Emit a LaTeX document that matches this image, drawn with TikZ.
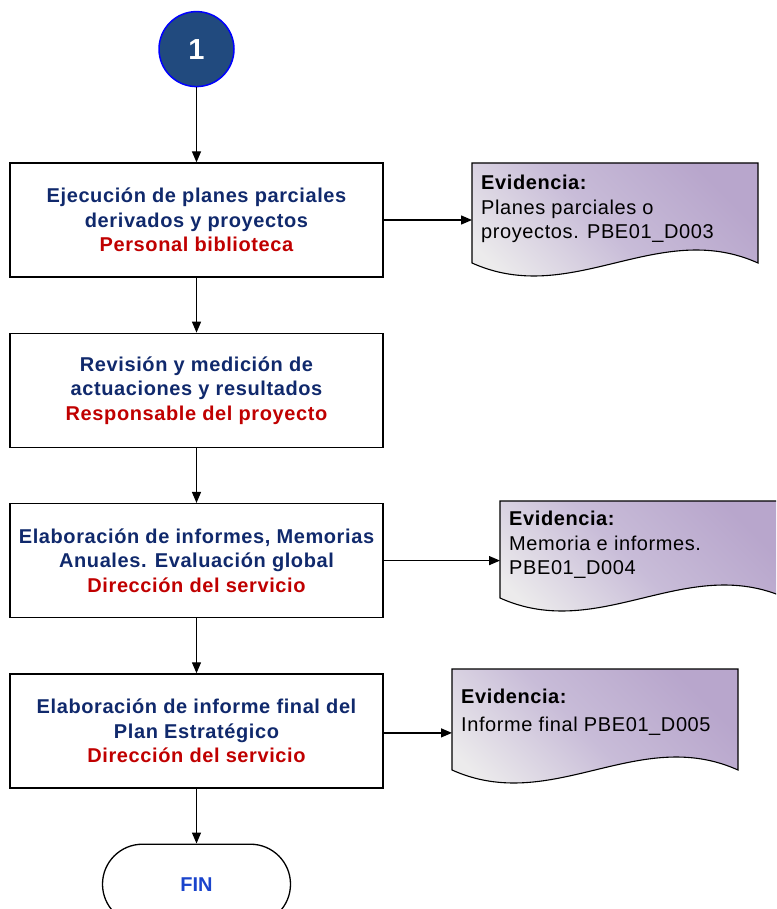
\documentclass[tikz,border=0pt]{standalone}
\usepackage{fontspec}
\setmainfont{Liberation Sans}
\newfontfamily\spacedfont[LetterSpace=3]{Liberation Sans}
\usetikzlibrary{positioning}
\usetikzlibrary{arrows.meta}

\definecolor{navy}{HTML}{10296C}
\definecolor{resp}{HTML}{C00000}
\definecolor{startfill}{HTML}{214A7E}
\definecolor{finblue}{HTML}{1A44CC}
\definecolor{evlight}{HTML}{ECEBEC}
\definecolor{evmid}{HTML}{C8BCD8}
\definecolor{evpurple}{HTML}{B8A6CC}

\begin{document}
\begin{tikzpicture}
		[x=1pt, y=-1pt,
		proc/.style={draw, line width=1.3pt, minimum width=373pt, minimum height=114pt, align=center, node distance=55pt, text=navy, font=\spacedfont\bfseries\fontsize{20}{24.5}\selectfont},
		evid/.style={draw, line width=1.1pt, top color=evlight, bottom color=evpurple, middle color=evmid, shading angle=135},
		evtext/.style={anchor=north west, align=left, inner xsep=9pt, inner ysep=0pt, font=\spacedfont\fontsize{20}{24.5}\selectfont},
		flow/.style={line width=1.3pt, -{Triangle[length=11pt, width=9pt]}}]
		\useasboundingbox (0,0) rectangle (776,909);
		\clip (0,0) rectangle (776,909);

		\node[proc] (b1) at (196.5,220) {Ejecución de planes parciales\\derivados y proyectos\\\textcolor{resp}{Personal biblioteca}};
		\node[proc, below=of b1] (b2) {Revisión y medición de\\actuaciones y resultados\\\textcolor{resp}{Responsable del proyecto}};
		\node[proc, below=of b2] (b3) {Elaboración de informes, Memorias\\Anuales. Evaluación global\\\textcolor{resp}{Dirección del servicio}};
		\node[proc, below=of b3] (b4) {Elaboración de informe final del\\Plan Estratégico\\\textcolor{resp}{Dirección del servicio}};
		\node[circle, draw=blue, line width=1.5pt, fill=startfill, minimum size=75pt, text=white, font=\bfseries\fontsize{29}{29}\selectfont, above=75pt of b1] (start) {1};
		\node[draw, line width=1.3pt, rounded corners=40pt, minimum width=188pt, minimum height=80pt, text=finblue, font=\bfseries\fontsize{20}{20}\selectfont, below=55pt of b4] (fin) {FIN};

		% evidencias
		\foreach \x/\y/\h in {472/163/100, 500/501/97, 452/669/101}
			\draw[evid] (\x,\y) -- ++(286,0) -- ++(0,\h) .. controls +(-100,-45) and +(100,45) .. (\x,\y+\h) -- cycle;
		\node[evtext] (ev1) at (472,175) {\textbf{Evidencia:}\\Planes parciales o\\proyectos. PBE01\_D003};
		\node[evtext] (ev2) at (500,511) {\textbf{Evidencia:}\\Memoria e informes.\\PBE01\_D004};
		\node[evtext] (ev3) at (452,689) {\textbf{Evidencia:}\\[3pt]Informe final PBE01\_D005};

		\draw[flow] (start) -- (b1);
		\draw[flow] (b1) -- (b2);
		\draw[flow] (b2) -- (b3);
		\draw[flow] (b3) -- (b4);
		\draw[flow] (b4) -- (fin);
		\draw[flow] (b1.east) -- (b1.east -| ev1.west);
		\draw[flow] (b3.east) -- (b3.east -| ev2.west);
		\draw[flow] ([yshift=-2pt]b4.east) -- ([yshift=-2pt]b4.east -| ev3.west);
	\end{tikzpicture}
\end{document}
